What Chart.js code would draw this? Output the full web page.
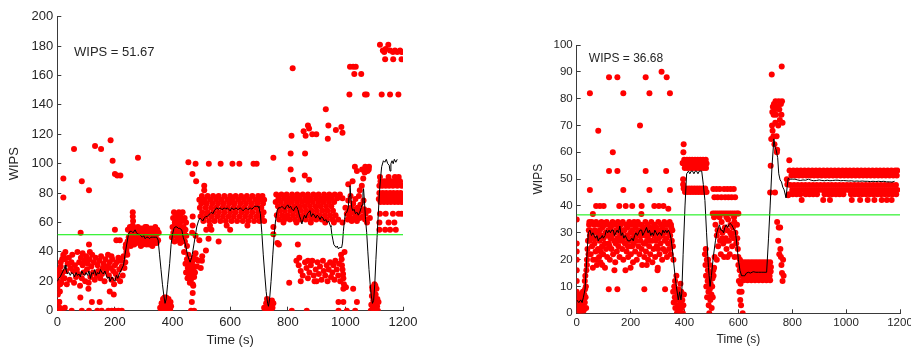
<!DOCTYPE html>
<html><head><meta charset="utf-8">
<script src="https://cdn.jsdelivr.net/npm/chart.js@4.4.0/dist/chart.umd.min.js"></script>
<style>
html,body{margin:0;padding:0;background:#fff;overflow:hidden}
#wrap{position:relative;width:911px;height:349px;overflow:hidden;background:#fff}
#c1{position:absolute;left:0;top:0;width:460px;height:349px}
#c2{position:absolute;left:460px;top:0;width:480px;height:349px}
</style></head><body>
<div id="wrap"><canvas id="c1" width="460" height="349"></canvas><canvas id="c2" width="480" height="349"></canvas></div>
<script>
// ---------------- shared axis data ----------------
const timeTicksMax = 1200;
const leftYMax = 200, rightYMax = 100;
const leftMeanWIPS = 51.67, rightMeanWIPS = 36.68;
const leftLabel = 'WIPS = 51.67', rightLabel = 'WIPS = 36.68';

// ---------------- LEFT chart: samples [time, WIPS] ----------------
const leftStartBand = [[0,5],[2,11],[0,16],[3,20],[1,24],[4,27],[6,6],[8,2],[12,30],[10,18],[15,25],[17,35],[20,22],[22,37],[9,13],[26,2],
[5,28],[8,24],[12,33],[14,19],[18,26],[21,38],[25,22],[27,35],[30,27],[33,18],[36,32],[40,36],[43,21],[46,29],[49,33],[52,38],[55,27],[58,19],[61,31],[65,23],[68,28],[70,40],[73,25],[76,33],[79,17],[82,36],[85,22],[88,31],[91,26],[94,34],[97,20],[100,37],[103,28],[106,32],[109,19],[112,35],[115,23],[118,30],[121,38],[124,26],[127,33],[130,21],[133,36],[136,24],[140,31],[143,27],[146,34],[149,22],[152,37],[155,25],[158,29],[161,32],[164,20],[167,35],[170,27],[173,30],[176,38],[179,24],[182,33],[185,29],[188,21],[191,35],[194,27],[197,18],[200,31],[203,25],[206,33],[209,22],[212,36],[215,28],[218,20],[221,34],[224,30],[227,24],[230,37],[233,29],[236,33],[237,43],[240,40],
[28,40],[88,39],[113,40],[188,37]];
const leftStartOutliers = [[21,90],[21,77],[58,110],[85,88],[131,112],[152,110],[110,82],[185,116],[192,102],[200,93],[208,92],[219,92],[280,104],[81,53],[110,45],[200,55],[205,48],[217,48],[80,9],[120,6],[147,6],[182,13],[196,11],[108,15],[7,6],
[3,0],[7,0],[15,0],[50,0],[85,0],[110,0],[139,0],[154,0],[177,0],[189,0],[200,0],[212,0],[224,0]];
const leftSecondBand = [[245,55],[248,50],[250,46],[252,57],[255,52],[257,48],[260,55],[262,67],[262,64],[263,61],[262,58],[265,50],[267,45],[270,56],[272,53],[275,48],[277,51],[280,57],[282,46],[285,54],[287,50],[290,47],[292,56],[295,52],[297,45],[300,55],[302,49],[305,53],[307,46],[310,57],[312,51],[315,48],[317,54],[320,45],[322,52],[325,56],[327,47],[330,50],[332,55],[335,53],[337,46],[340,57],[342,49],[345,52],[347,55],[350,48],[352,53],[255,44],[268,46],[290,44],[310,45],[330,44],[240,42],[243,38],[238,45],[258,56],[278,54],[298,51],[318,50],[338,51],[244,47],[265,54],[285,47],[305,57],[325,49],[345,46]];
const leftFirstDip = [[357,2],[360,0],[362,5],[365,1],[367,8],[368,3],[370,0],[372,6],[374,2],[375,0],[377,4],[378,9],[380,1],[381,7],[383,0],[385,3],[386,8],[388,2],[390,5],[392,0],[393,6],[395,3],[372,9],[383,5]];
const leftThirdBand = [[398,50],[400,57],[402,63],[403,53],[405,67],[407,47],[408,60],[410,55],[412,51],[413,65],[415,58],[417,48],[418,62],[420,54],[422,67],[423,50],[425,59],[427,46],[428,64],[430,56],[432,52],[433,61],[435,67],[437,49],[438,57],[440,53],[442,63],[443,47],[445,55],[447,60],[448,51],[450,44],
[440,40],[445,32],[447,26],[450,35],[452,22],[453,29],[455,38],[457,24],[458,31],[460,19],[461,27],[462,34],[464,21],[465,29],[467,25],[468,33],[470,18],[472,28],[473,36],[475,23],[477,30],[478,26],[480,39],[482,35],[485,30],[490,34],[498,29],[503,37],[470,12],[467,6],[464,0],[475,0],[472,17],
[455,101],[469,93],[482,88],[510,85],[510,82],[480,100],[470,64],[470,58],[468,53],[480,51],[493,48],[516,41],[502,34],
[526,100],[567,100],[608,100],[632,100],[681,100],[692,100],[535,55],[560,47],[517,55],[600,55],[525,49]];
const leftMidRows = [
 {v:78, t:[502,522,541,560,580,600,619,638,658,677,697,712]},
 {v:75.5, t:[493,512,531,551,570,590,609,628,648,667,687,706,718]},
 {v:73, t:[500,519,539,558,578,597,616,636,655,675,694,714]},
 {v:70, t:[495,515,534,553,573,592,612,631,650,670,689,708]},
 {v:67, t:[503,522,542,561,580,600,619,639,658,677,697,716]},
 {v:64, t:[497,516,536,555,575,594,613,633,652,672,691,710]},
 {v:61, t:[507,527,546,566,585,605,624,644,663,683,702,718]},
 {v:58, t:[530,588,660]}
];
const leftSecondDip = [[718,2],[722,0],[725,5],[727,1],[730,3],[733,0],[735,6],[737,2],[740,4],[742,0],[745,7],[747,2],[750,5],[728,8],[738,0],
[750,104],[750,52],[750,57],[769,45],[764,46]];
const leftLateRows = [
 {v:79, t:[760,778,796,815,833,852,870,889,907,926,944,963,981]},
 {v:76.5, t:[768,787,805,824,842,861,879,898,916,935,953,972,990]},
 {v:74, t:[758,776,795,813,832,850,869,887,906,924,943,961]},
 {v:71, t:[766,785,803,822,840,859,877,896,914,933,951]},
 {v:68, t:[772,790,809,827,846,864,883,901,920,938,957]},
 {v:65, t:[762,781,799,818,836,855,873,892,910,929,947,966]},
 {v:62, t:[770,788,807,825,844,862,881,899,918,936,955,975]},
 {v:60, t:[785,830,880,930,960,990]}
];
const leftLowBand = [[830,34],[838,31],[845,27],[852,24],[845,20],[860,33],[865,29],[870,22],[875,26],[880,31],[885,34],[890,24],[893,20],[897,28],[903,33],[908,25],[912,30],[917,21],[922,34],[925,27],[930,24],[935,31],[938,20],[942,28],[947,33],[950,23],[955,26],[958,31],[962,21],[965,34],[970,28],[975,24],[978,32],[982,20],[985,38],[987,35],[988,31],[990,28],[992,25],[993,22],[995,18],[997,40],[840,36],[900,20],[870,34],
[817,165],[813,119],[810,107],[810,96],[818,89],[855,122],[862,119],[870,126],[874,124],[885,120],[899,120],[932,137],[941,126],[939,117],[967,123],[986,125],[990,121],[860,107],[859,92],[874,89],[805,19],[835,45],[976,6],[993,6],[1040,6],[993,15],[1027,15],[814,0],[866,0],[976,0],[1005,0],[1034,0],[1002,16]];
const leftLateBand = [[1000,70],[1005,66],[1008,62],[1010,75],[1012,68],[1015,64],[1018,78],[1020,70],[1022,61],[1025,67],[1027,73],[1030,63],[1032,69],[1035,76],[1037,65],[1040,61],[1042,70],[1045,67],[1047,78],[1050,63],[1052,72],[1055,68],[1057,85],[1060,64],[1062,90],[1063,75],[1065,69],[1067,94],[1068,62],[1070,66],[1072,97],[1075,60],[1077,95],[1080,68],[1082,98],[1085,63],[1058,96],[1069,98],[1081,96],[1033,98],[1010,86],[1025,88],[1050,82],[1040,95],
[1088,0],[1090,4],[1092,10],[1093,16],[1095,2],[1097,7],[1098,13],[1100,0],[1101,18],[1103,5],[1105,11],[1106,1],[1108,15],[1110,3],[1111,8],[1113,0],[1115,6],[1100,9],[1094,14],[1104,17],
[1120,181],[1149,181],[1130,177],[1135,176],[1140,178],[1155,177],[1165,176],[1172,177],[1180,176],[1190,177],[1195,176],[1138,171],[1166,171],[1195,171],[1126,147],[1155,147],[1184,147],[1014,147],[1068,147],[1074,147],
[1016,166],[1027,166],[1036,166],[1031,161],[1055,161]];
const leftEndRows = [
 {v:80, t:[1118,1130,1142,1155,1167,1180,1192]},
 {v:78, t:[1124,1136,1148,1161,1173,1186,1198]},
 {v:76, t:[1116,1128,1140,1152,1165,1177,1190,1200]},
 {v:74, t:[1122,1134,1146,1158,1171,1183,1195]},
 {v:88, t:[1122,1135,1145,1160,1175,1190]},
 {v:85, t:[1118,1128,1140,1152,1165,1180,1195]},
 {v:91, t:[1120,1150,1172,1185]},
 {v:66, t:[1120,1140,1165,1185,1195]},
 {v:60, t:[1118,1150,1170]},
 {v:55, t:[1118,1138,1155,1175]}
];
const leftAverage = [[0,20],[5,22],[10,23],[15,25],[20,27],[25,29],[27,31],[30,28],[35,25],[40,26],[45,24],[50,26],[55,25],[60,23],[65,26],[70,24],[75,25],[80,23],[85,27],[90,25],[95,24],[100,26],[105,24],[110,27],[115,22],[120,26],[125,25],[130,28],[135,24],[140,26],[145,25],[150,28],[155,26],[160,25],[165,27],[170,24],[175,22],[180,23],[183,20],[190,23],[195,21],[200,20],[205,24],[210,22],[215,25],[220,27],[225,29],[230,31],[235,38],[240,44],[247,52],[252,54],[258,54],[263,53],[270,55],[275,53],[280,52],[285,52],[290,51],[295,50],[300,51],[305,49],[310,50],[315,50],[320,49],[325,50],[330,50],[335,50],[340,50],[345,50],[350,48],[355,38],[360,28],[365,18],[370,10],[374,5],[378,8],[383,18],[390,32],[395,45],[400,52],[405,56],[409,57],[415,57],[420,56],[425,56],[432,55],[437,50],[442,47],[447,43],[452,38],[457,35],[461,33],[466,36],[470,40],[475,46],[480,52],[484,57],[490,61],[495,63],[500,62],[505,61],[510,63],[515,64],[520,64],[525,65],[530,66],[535,67],[540,66],[545,68],[553,70],[560,69],[565,70],[570,69],[575,69],[580,70],[585,69],[590,70],[595,69],[600,68],[605,70],[610,69],[615,69],[620,70],[625,69],[630,69],[635,70],[640,69],[645,68],[650,69],[655,70],[660,69],[665,69],[670,70],[675,69],[680,70],[685,71],[692,71],[697,71],[700,70],[705,66],[710,53],[715,38],[720,25],[725,13],[730,5],[733,3],[737,8],[742,20],[748,38],[753,52],[758,62],[763,68],[768,70],[775,70],[780,71],[785,70],[790,69],[795,71],[800,72],[805,70],[810,71],[815,69],[820,68],[825,70],[830,71],[835,69],[840,65],[845,62],[849,59],[853,62],[858,65],[863,63],[868,66],[873,67],[877,68],[882,64],[887,66],[892,65],[897,63],[902,65],[907,64],[912,62],[917,64],[922,63],[927,61],[932,62],[937,60],[942,61],[947,58],[950,57],[953,52],[957,48],[960,45],[964,44],[968,43],[972,44],[976,42],[980,43],[984,43],[987,43],[990,46],[993,54],[997,62],[1000,66],[1005,67],[1010,70],[1013,78],[1016,85],[1019,78],[1022,70],[1026,68],[1030,69],[1035,66],[1040,67],[1045,65],[1050,67],[1055,70],[1058,72],[1061,80],[1063,83],[1066,75],[1070,62],[1074,53],[1078,40],[1082,28],[1086,18],[1090,10],[1094,5],[1098,7],[1102,18],[1106,35],[1110,50],[1114,65],[1118,80],[1122,90],[1126,98],[1132,102],[1137,101],[1142,103],[1147,100],[1152,99],[1155,95],[1158,100],[1162,102],[1166,100],[1170,103],[1175,101],[1180,103]];

// ---------------- RIGHT chart: samples [time, WIPS] ----------------
const rightStart = [[0,35],[0,26],[0,23],[0,20],[0,16],[0,12],[0,8],[2,4],[3,1],[5,6],[6,2],[8,0],[9,5],[10,3],[12,7],[13,1],[15,0],[16,4],[18,2],[19,6],[20,0],[22,3],[23,8],[25,5],[26,1],[28,7],[30,4],[31,9],[33,6],[35,2],[30,12],[32,14],[34,10],[36,16],[38,20],[40,24],[38,18],[42,27],[44,22],[45,31],[47,34],[49,29]];
const rightFirstBand = [[46,33],[48,27],[50,31],[52,22],[54,29],[56,34],[57,25],[59,30],[61,20],[63,28],[64,33],[66,26],[68,31],[70,23],[72,34],[74,28],[75,18],[77,30],[79,24],[81,33],[83,21],[85,27],[86,31],[88,19],[90,29],[92,34],[94,25],[96,32],[98,22],[100,28],[102,33],[104,26],[105,17],[107,30],[109,24],[111,34],[113,21],[115,29],[117,31],[119,26],[121,33],[123,20],[125,28],[127,32],[129,24],[131,29],[133,34],[135,22],[137,30],[139,27],[141,33],[143,19],[145,26],[147,31],[149,23],[151,28],[153,34],[155,25],[157,32],[159,21],[161,29],[163,33],[165,27],[167,30],[169,24],[171,34],[173,20],[175,28],[177,31],[179,26],[181,16],[183,33],[185,23],[187,29],[189,32],[191,21],[193,27],[195,34],[197,25],[199,30],[201,22],[203,33],[205,28],[207,31],[209,19],[211,26],[213,34],[215,29],[217,23],[219,32],[221,27],[223,20],[225,30],[227,34],[229,25],[231,29],[233,22],[235,31],[237,27],[239,33],[241,24],[243,18],[245,30],[247,32],[249,26],[251,21],[253,29],[255,34],[257,23],[259,31],[261,27],[263,33],[265,20],[267,29],[269,25],[271,32],[273,22],[275,30],[277,34],[279,27],[281,19],[283,31],[285,24],[287,29],[289,33],[291,21],[293,27],[295,32],[297,25],[299,30],[301,17],[303,34],[305,28],[307,22],[309,31],[311,26],[313,33],[315,29],[317,20],[319,32],[321,24],[323,30],[325,34],[327,27],[329,23],[331,31],[333,28],[335,21],[337,33],[339,26],[341,30],[343,24],[345,34],[347,29],[349,22],[351,32],[353,27],[355,31],[357,25],[359,20],
[53,30],[71,20],[89,23],[106,33],[122,25],[142,30],[158,27],[174,31],[190,25],[206,25],[222,33],[238,29],[254,26],[270,27],[286,32],[302,24],[318,29],[334,33],[350,33],
[60,17],[95,18],[140,16],[200,17],[260,18],[300,16]];
const rightFirstOutliers = [[72,40],[86,40],[100,40],[158,40],[182,40],[206,40],[241,40],[288,40],[305,40],[322,40],[340,39],[60,37],[240,37],
[49,82],[80,68],[120,88],[151,88],[173,82],[235,70],[256,88],[270,82],[315,90],[334,88],[346,82],[134,60],[120,53],[151,53],[256,53],[332,53],[49,46],[173,46],[270,46],[346,46],[119,9],[151,9],[251,9],[328,9]];
const rightDips = [[358,8],[360,4],[362,10],[364,6],[366,2],[368,9],[370,5],[372,0],[374,7],[376,3],[378,9],[380,1],[382,6],[384,0],[386,4],[388,8],[390,2],[392,5],[394,0],[396,3],[398,7],[365,12],[370,14],[385,11],
[395,50],[396,60],[397,63],[393,56],[395,48],
[476,22],[478,18],[480,14],[481,10],[483,20],[484,6],[486,12],[487,16],[489,8],[490,3],[491,13],[492,0],[493,18],[494,9],[496,5],[497,11],[498,15],[500,7],[501,2],[503,10],[504,13],[505,6],[507,16],[479,24],[488,20],
[515,33],[520,29],[525,25],[528,31],[532,27],[535,22],[538,34],[541,30],[544,26],[547,21],[550,32],[553,28],[556,24],[559,31],[562,35],[565,27],[568,22],[571,33],[574,29],[577,25],[580,32],[583,28],[586,21],[589,30],[592,26],[595,33],[598,24],[512,21],[523,31],[540,28],[555,27],[570,30],[585,34],[596,28],[510,17],[508,14],[520,20],[560,21],[600,21],
[600,18],[602,12],[604,8],[605,16],[607,5],[608,11],[610,3],[611,14],[612,8],[614,18],[616,0],[606,20]];
const rightPeak = [[718,45],[720,55],[722,65],[724,89],[725,70],[726,75],[727,68],[728,77],[730,66],[731,74],[732,78],[734,63],[735,76],[736,45],[737,71],[738,79],[740,74],[742,66],[743,60],[744,61],[746,77],[748,70],[750,79],[752,76],[754,72],[758,78],[760,74],[761,92],[762,79],[764,71],[744,34],[750,32],[755,32],[748,27],[756,24],[758,21],[760,18],[762,15],[764,12],[766,20],[768,14],[752,22],
[789,57],[782,48],[785,44],[780,50]];
const rightRows = [
 {v:57.2, t:[399,409,419,429,439,449,459,469,479]},
 {v:55.8, t:[396,404,414,424,434,444,454,464,474,482]},
 {v:54.2, t:[401,411,421,431,441,451,461,471,480]},
 {v:46.5, t:[397,407,417,427,437,447,457,467,477]},
 {v:45.2, t:[402,412,422,432,442,452,462,472,482]},
 {v:46.3, t:[507,519,531,547,559,571,583]},
 {v:43.3, t:[511,523,537,551,563,575,588]},
 {v:37.2, t:[505,512,519,526,533,540,547,554,561,568,575,582,589,596,600]},
 {v:35.8, t:[510,530,556,584]},
 {v:19, t:[618,628,638,648,658,668,678,688,698,708,718]},
 {v:17.3, t:[614,623,633,643,653,663,673,683,693,703,713,721]},
 {v:15.6, t:[620,630,640,650,660,670,680,690,700,710,720]},
 {v:13.9, t:[616,626,636,646,656,666,676,686,696,706,716]},
 {v:12.3, t:[620,634,648,662,676,690,704,718]},
 {v:53.2, t:[790,804,818,832,846,860,874,888,902,916,930,944,958,972,986,1000,1014,1028,1042,1056,1070,1084,1098,1112,1126,1140,1154,1168,1182,1190]},
 {v:51.4, t:[797,811,825,839,853,867,881,895,909,923,937,951,965,979,993,1007,1021,1035,1049,1063,1077,1091,1105,1119,1133,1147,1161,1175,1188]},
 {v:47.8, t:[793,807,821,835,849,863,877,891,905,919,933,947,961,975,989,1003,1017,1031,1045,1059,1073,1087,1101,1115,1129,1143,1157,1171,1185]},
 {v:46.0, t:[800,814,828,842,856,870,884,898,912,926,940,954,968,982,996,1010,1024,1038,1052,1066,1080,1094,1108,1122,1136,1150,1164,1178,1190]},
 {v:44.4, t:[788,802,816,830,850,864,878,892,920,934,948,962,976,990,1018,1032,1046,1060,1074,1088,1102,1116,1130,1144,1158,1172,1186]},
 {v:42.2, t:[835,915,940,1021,1052,1080,1105,1132,1151,1169]}
];
const rightAverage = [[0,5],[8,4],[15,5],[20,4],[25,6],[31,9],[36,18],[40,25],[43,30],[49,31],[55,29],[60,30],[65,29],[70,28],[75,29],[80,27],[85,28],[90,28],[95,29],[99,28],[105,29],[110,31],[115,30],[120,31],[125,30],[130,31],[136,31],[140,29],[145,30],[150,31],[155,30],[160,32.5],[165,29],[170,30],[175,28],[180,29],[185,28],[190,27],[198,27],[205,28],[210,27],[215,29],[220,30],[225,29],[230,30],[235,31],[241,31],[245,29],[250,30],[255,31],[259,32],[265,30],[270,31],[275,29],[280,30],[285,29],[290,31],[295,30],[300,29],[305,30],[309,30],[315,29],[320,31],[325,30],[330,31],[335,30],[340,31],[345,30],[350,28],[355,24],[359,20],[365,14],[370,10],[377,5],[382,8],[387,5],[390,7.5],[395,22],[402,40],[408,52],[415,53],[420,52],[425,53],[430,53],[435,52],[440,53],[445,53],[450,52],[455,53],[460,53],[464,53],[470,48],[476,42],[482,30],[489,17],[495,10],[500,14],[507,21],[515,27],[520,30],[526,32],[530,33],[535,31],[540,31],[545,30],[550,32],[555,33],[560,32],[565,33],[569,33.5],[575,33],[580,32],[585,31],[588,31],[592,28],[596,24],[600,20],[606,16],[612,14],[618,14],[624,14],[630,15],[637,15.3],[645,15],[655,15.5],[665,15.3],[675,15.3],[685,15.3],[695,15.3],[705,15.3],[712,28],[718,40],[725,55],[732,65],[736,62],[740,61],[742,61],[746,58],[750,52],[755,49.7],[760,49],[765,47],[770,46],[777,43],[781,47],[785,50.3],[790,50],[800,50],[810,50],[820,49.7],[830,49.5],[840,49.7],[850,49.6],[860,50],[870,49.6],[880,49.4],[890,49.5],[900,49.7],[910,49.5],[920,49.4],[930,49.6],[940,49.4],[950,49.5],[960,49.6],[970,49.6],[980,49.4],[990,49.5],[1000,49.4],[1010,49.3],[1020,49.4],[1030,49.2],[1040,49.3],[1050,49.2],[1060,49.3],[1070,49.2],[1080,49.2],[1090,49.1],[1100,49.2],[1110,49.1],[1120,49.2],[1130,49.1],[1140,49.2],[1150,49],[1160,49],[1170,48.9],[1180,49.2]];

// ---------------- helpers (reshape only) ----------------
const pairs = p => p.map(([x, y]) => ({x, y}));
const rows = r => r.flatMap(row => row.t.map(t => ({x: t, y: row.v})));

const FONT = "'Liberation Sans', Arial, Helvetica, sans-serif";
const INK = '#262626', AXIS = '#3a3a3a';

const labelPlugin = {
  id: 'wipsLabel',
  afterDatasetsDraw(chart, args, o) {
    const {ctx, scales: {x, y}} = chart;
    ctx.save();
    ctx.font = o.size + 'px ' + FONT;
    ctx.fillStyle = INK;
    ctx.textBaseline = 'middle';
    ctx.textAlign = 'left';
    ctx.fillText(o.text, x.getPixelForValue(o.x), y.getPixelForValue(o.y));
    ctx.restore();
  }
};

function makeChart(id, cfg) {
  return new Chart(document.getElementById(id), {
    type: 'scatter',
    data: {datasets: [
      {type: 'line', data: [{x: 0, y: cfg.mean}, {x: timeTicksMax, y: cfg.mean}], borderColor: '#00ee00', borderWidth: 1, pointRadius: 0, fill: false, order: 0},
      {type: 'line', data: cfg.avg, borderColor: '#000000', borderWidth: 1, pointRadius: 0, fill: false, tension: 0, order: 1},
      {data: cfg.points, backgroundColor: '#ff0000', pointRadius: 3, pointBorderWidth: 0, borderWidth: 0, order: 2}
    ]},
    options: {
      responsive: false, animation: false, devicePixelRatio: 1, events: [],
      layout: {padding: cfg.pad},
      plugins: {legend: {display: false}, tooltip: {enabled: false},
        wipsLabel: {text: cfg.label, x: cfg.labelX, y: cfg.labelY, size: cfg.titleSize}},
      scales: {
        x: {type: 'linear', min: 0, max: timeTicksMax,
          ticks: {stepSize: 200, padding: cfg.xTickPad, color: INK, font: {family: FONT, size: cfg.tickSize}, maxRotation: 0, autoSkip: false, callback: v => String(v)},
          grid: {drawOnChartArea: false, tickLength: -4, color: AXIS},
          border: {color: AXIS, width: 1},
          title: {display: true, text: 'Time (s)', color: INK, font: {family: FONT, size: cfg.titleSize}, padding: {top: 0, bottom: cfg.xTitlePad}},
          afterFit: s => { s.height = cfg.xH; }},
        y: {type: 'linear', min: 0, max: cfg.yMax,
          ticks: {stepSize: cfg.yMax / 10, padding: 8, color: INK, font: {family: FONT, size: cfg.tickSize}, callback: v => String(v)},
          grid: {drawOnChartArea: false, tickLength: -4, color: AXIS},
          border: {color: AXIS, width: 1},
          title: {display: true, text: 'WIPS', color: INK, font: {family: FONT, size: cfg.titleSize}, padding: {top: 0, bottom: 0}},
          afterFit: s => { s.width = cfg.yW; }}
      }
    },
    plugins: [labelPlugin]
  });
}

makeChart('c1', {
  mean: leftMeanWIPS, yMax: leftYMax, label: leftLabel, labelX: 58, labelY: 176,
  avg: pairs(leftAverage),
  points: [...pairs(leftStartBand), ...pairs(leftStartOutliers), ...pairs(leftSecondBand), ...pairs(leftFirstDip),
           ...pairs(leftThirdBand), ...rows(leftMidRows), ...pairs(leftSecondDip), ...rows(leftLateRows),
           ...pairs(leftLowBand), ...pairs(leftLateBand), ...rows(leftEndRows)],
  pad: {left: 7, right: 57, top: 16.7, bottom: 0},
  yW: 50.3, xH: 38.3, xTickPad: 8, xTitlePad: 1, tickSize: 13, titleSize: 13
});

makeChart('c2', {
  mean: rightMeanWIPS, yMax: rightYMax, label: rightLabel, labelX: 45, labelY: 94.8,
  avg: pairs(rightAverage),
  points: [...pairs(rightStart), ...pairs(rightFirstBand), ...pairs(rightFirstOutliers), ...pairs(rightDips),
           ...pairs(rightPeak), ...rows(rightRows)],
  pad: {left: 71, right: 40, top: 45, bottom: 0},
  yW: 45.7, xH: 35.7, xTickPad: 7, xTitlePad: 1.8, tickSize: 11.5, titleSize: 12
});
</script>
</body></html>
